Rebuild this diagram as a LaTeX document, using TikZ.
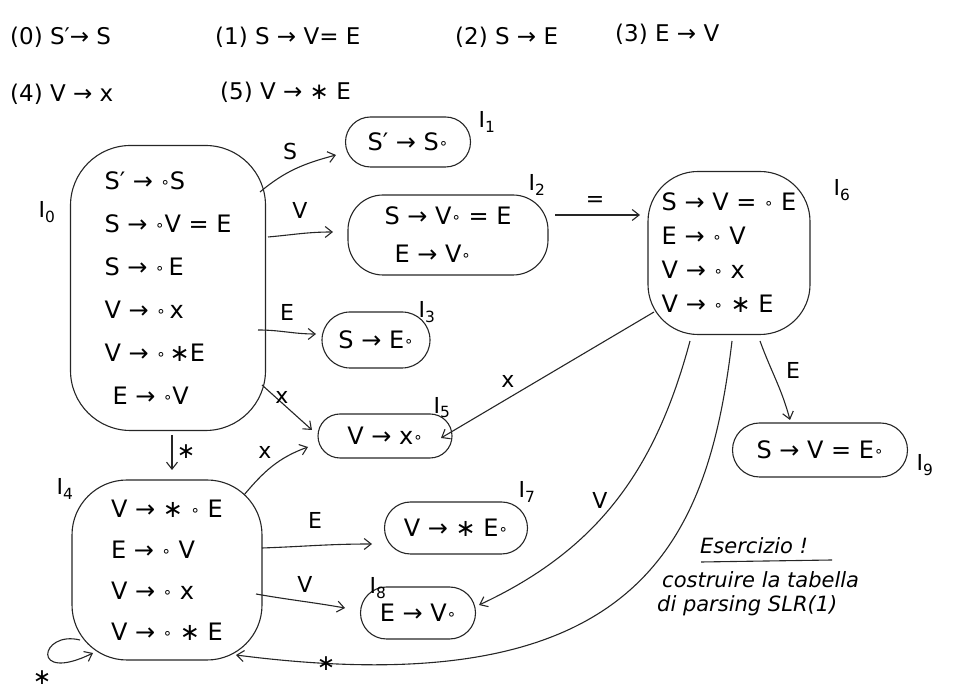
\documentclass[tikz,border=0pt]{standalone}
\usepackage{fontspec}
\setmainfont{DejaVu Sans}
\usetikzlibrary{arrows.meta,calc}
\newcommand{\dt}{\raisebox{2pt}{\fontsize{15}{15}\selectfont ∘}}
\begin{document}
\begin{tikzpicture}[x=1pt,y=1pt,
  ink/.style={draw=black!85, line width=1.1pt},
  state/.style={ink, rounded corners=#1, align=left, inner sep=0pt, font=\fontsize{24}{30}\selectfont},
  arr/.style={ink, -{Straight Barb[length=7pt,width=11pt]}},
  lab/.style={font=\fontsize{22}{24}\selectfont, inner sep=1pt},
  prod/.style={anchor=west, font=\fontsize{23}{26}\selectfont, inner sep=0pt},
  slabel/.style={font=\fontsize{22}{24}\selectfont, inner sep=0pt},
  note/.style={anchor=west, font=\fontsize{21}{24}\itshape, inner sep=0pt}
]
\useasboundingbox (0,0) rectangle (957,692);

% grammar
\node[prod] (p0) at (10,655) {(0) S′→ S};
\node[prod] (p1) at (215,655) {(1) S → V= E};
\node[prod] (p2) at (455,655) {(2) S → E};
\node[prod] (p3) at (615,658) {(3) E → V};
\node[prod] (p4) at (10,598) {(4) V → x};
\node[prod] (p5) at (220,600) {(5) V → ∗ E};

% states
\node[state=60, minimum width=195pt, minimum height=285pt, font=\fontsize{24}{43}\selectfont] (I0) at (168,404)
  {S′ → \dt S\\S → \dt V = E\\S → \dt\,E\\V → \dt\,x\\V → \dt\,∗E\\\hspace{8pt}E → \dt V};
\node[state=25, minimum width=125pt, minimum height=50pt] (I1) at (408,550) {S′ → S\dt};
\node[state=35, minimum width=200pt, minimum height=80pt, font=\fontsize{24}{38}\selectfont] (I2) at (448,457)
  {S → V\dt\ = E\\\hspace{10pt}E → V\dt};
\node[state=28, minimum width=108pt, minimum height=56pt] (I3) at (376,352) {S → E\dt};
\node[state=22, minimum width=134pt, minimum height=44pt] (I5) at (385,256) {V → x\dt};
\node[state=50, minimum width=162pt, minimum height=163pt, font=\fontsize{24}{34}\selectfont] (I6) at (729,439)
  {S → V = \dt\ E\\E → \dt\ V\\V → \dt\ x\\V → \dt\ ∗ E};
\node[state=27, minimum width=175pt, minimum height=54pt] (I9) at (820,242) {S → V = E\dt};
\node[state=55, minimum width=190pt, minimum height=180pt, font=\fontsize{24}{41}\selectfont] (I4) at (167,122)
  {V → ∗ \dt\ E\\E → \dt\ V\\V → \dt\ x\\V → \dt\ ∗ E};
\node[state=26, minimum width=143pt, minimum height=52pt] (I7) at (456,164) {V → ∗ E\dt};
\node[state=26, minimum width=115pt, minimum height=52pt] (I8) at (418,79) {E → V\dt};

% state names
\node[slabel] (n0) at (47,480) {I\textsubscript{0}};
\node[slabel] (n1) at (487,570) {I\textsubscript{1}};
\node[slabel] (n2) at (537,507) {I\textsubscript{2}};
\node[slabel] (n3) at (427,380) {I\textsubscript{3}};
\node[slabel] (n5) at (442,284) {I\textsubscript{5}};
\node[slabel] (n6) at (842,502) {I\textsubscript{6}};
\node[slabel] (n9) at (925,227) {I\textsubscript{9}};
\node[slabel] (n4) at (65,203) {I\textsubscript{4}};
\node[slabel] (n7) at (527,200) {I\textsubscript{7}};
\node[slabel] (n8) at (378,104) {I\textsubscript{8}};

% transitions
\draw[arr] ($(I0.center)+(92,96)$) to[out=40,in=195] ($(I1.center)+(-72,-13)$);
\draw[arr] ($(I0.center)+(100,51)$) to[out=5,in=180] ($(I2.center)+(-115,3)$);
\draw[arr] ($(I2.center)+(107,20)$) -- ($(I6.center)+(-89,38)$);
\draw[arr] ($(I0.center)+(90,-42)$) to[out=0,in=180] ($(I3.center)+(-60,6)$);
\draw[arr] ($(I0.center)+(94,-97)$) -- ($(I5.center)+(-73,6)$);
\draw[arr] ($(I0.center)+(4,-147)$) -- ($(I4.center)+(5,100)$);
\draw[arr] ($(I4.center)+(77,75)$) to[out=50,in=200] ($(I5.center)+(-77,-11)$);
\draw[arr] ($(I6.center)+(-75,-59)$) -- ($(I5.center)+(56,-2)$);
\draw[arr] ($(I6.center)+(31,-88)$) to[out=-70,in=105] ($(I9.center)+(-30,30)$);
\draw[arr] ($(I6.center)+(-39,-88)$) to[out=-105,in=25] ($(I8.center)+(61,8)$);
\draw[arr] ($(I6.center)+(3,-88)$) .. controls (708,150) and (640,-15) .. ($(I4.center)+(69,-85)$);
\draw[arr] ($(I4.center)+(95,22)$) to[out=2,in=180] ($(I7.center)+(-84,-16)$);
\draw[arr] ($(I4.center)+(89,-24)$) to[out=-10,in=170] ($(I8.center)+(-73,5)$);
\draw[arr] ($(I4.center)+(-87,-70)$) .. controls (40,62) and (30,8) .. ($(I4.center)+(-74,-83)$);

% transition labels
\node[lab] (lS) at (290,540) {S};
\node[lab] (lV1) at (300,482) {V};
\node[lab] (lEq) at (595,490) {=};
\node[lab] (lE1) at (287,380) {E};
\node[lab] (lx1) at (282,295) {x};
\node[lab] (ls1) at (186,240) {∗};
\node[lab] (lx2) at (265,240) {x};
\node[lab] (lx3) at (508,311) {x};
\node[lab] (lE2) at (793,322) {E};
\node[lab] (lV2) at (600,192) {V};
\node[lab] (ls2) at (326,28) {∗};
\node[lab] (lE3) at (315,172) {E};
\node[lab] (lV3) at (305,108) {V};
\node[lab] (ls3) at (42,14) {∗};

% exercise note
\node[note] (t1) at (700,146) {Esercizio !};
\draw[ink] (701,130) -- (832,132);
\node[note] (t2) at (662,112) {costruire la tabella};
\node[note] (t3) at (657,86) {di parsing SLR(1)};
\end{tikzpicture}
\end{document}
